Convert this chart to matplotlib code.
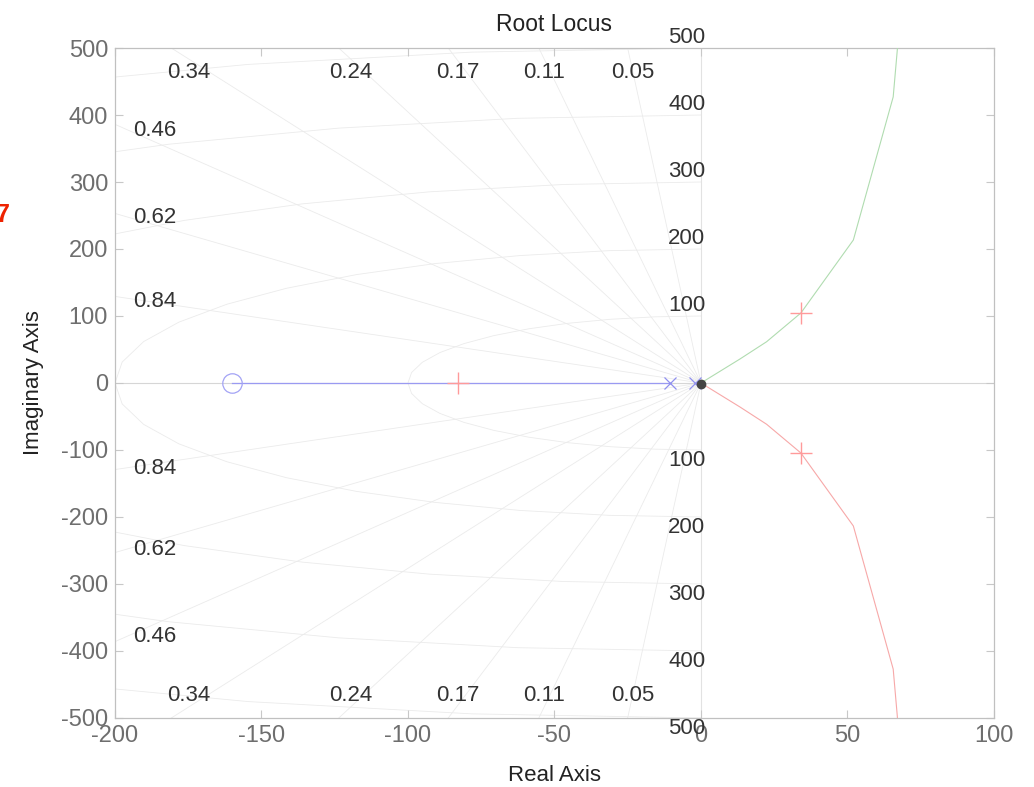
import numpy as np
import matplotlib
matplotlib.use("Agg")
import matplotlib.pyplot as plt

plt.rcParams['font.family'] = ['Liberation Sans', 'DejaVu Sans']
plt.rcParams['axes.unicode_minus'] = False

# root locus branches
real_branch_x = [-160.0, -10.6]
real_branch_y = [0.0, 0.0]

up_x = [0.0, 13.3, 22.4, 34.1, 52.0, 65.6, 67.0, 67.3]
up_y = [0.0, 35.8, 61.6, 104.5, 213.4, 427.0, 497.0, 520.0]
low_x = [0.0, 13.3, 22.4, 34.1, 52.0, 65.6, 67.0, 67.3]
low_y = [0.0, -35.8, -61.6, -104.5, -213.4, -427.0, -497.0, -520.0]

poles_x = [-10.6, -2.0]
poles_y = [0.0, 0.0]
zeros_x = [-160.0]
zeros_y = [0.0]
cl_x = [-83.0, 34.1, 34.1]
cl_y = [0.0, 104.5, -104.5]

# grid: damping ratios and natural frequencies
zetas = [0.05, 0.11, 0.17, 0.24, 0.34, 0.46, 0.62, 0.84]
wns = [100, 200, 300, 400, 500]

# where the damping labels sit
zeta_lbl_up = [(-174.7, 464), (-119.5, 464), (-82.9, 464), (-53.6, 464), (-23.2, 464),
               (-186.3, 377.6), (-186.3, 246.3), (-186.3, 120.9)]
zeta_txt_up = ['0.34', '0.24', '0.17', '0.11', '0.05', '0.46', '0.62', '0.84']
zeta_lbl_lo = [(-174.7, -465.7), (-119.5, -465.7), (-82.9, -465.7), (-53.6, -465.7),
               (-23.2, -465.7), (-186.3, -379), (-186.3, -247.8), (-186.3, -126.9)]
zeta_txt_lo = ['0.34', '0.24', '0.17', '0.11', '0.05', '0.46', '0.62', '0.84']

fig = plt.figure(figsize=(10.34, 7.87), dpi=100)
ax = fig.add_axes([0.1112, 0.0877, 0.8501, 0.8513])

gcol = '#ebebeb'
# damping lines
for z in zetas:
    th = np.arccos(z)
    r = 700
    ax.plot([0, -r * np.cos(th)], [0, r * np.sin(th)], color=gcol, lw=0.6, zorder=1)
    ax.plot([0, -r * np.cos(th)], [0, -r * np.sin(th)], color=gcol, lw=0.6, zorder=1)
# frequency circles (coarse polygons, left half plane)
ang = np.linspace(np.pi / 2, 3 * np.pi / 2, 21)
for w in wns:
    ax.plot(w * np.cos(ang), w * np.sin(ang), color=gcol, lw=0.6, zorder=1)

# axes lines
ax.axhline(0, color='#d6d6d6', lw=0.8, zorder=1)
ax.axvline(0, color='#e2e2e2', lw=0.8, zorder=1)

# locus
ax.plot(real_branch_x, real_branch_y, color='#9a9af2', lw=0.9, zorder=3)
ax.plot(up_x, up_y, color='#b0dcb0', lw=0.8, zorder=3)
ax.plot(low_x, low_y, color='#f7a8a8', lw=0.8, zorder=3)

ax.plot(poles_x, poles_y, 'x', color='#8f8fef', ms=8, mew=0.9, zorder=4)
ax.plot(zeros_x, zeros_y, 'o', mfc='none', mec='#a3a3f5', ms=14, mew=0.9, zorder=4)
ax.plot(cl_x, cl_y, '+', color='#ff9a9a', ms=16, mew=1.0, zorder=5)
ax.plot([0.0], [-2.0], 'o', color='#444444', ms=6, zorder=6)

# labels on grid
for (x, y), t in zip(zeta_lbl_up, zeta_txt_up):
    ax.text(x, y, t, ha='center', va='center', fontsize=16, color='#333333', zorder=7)
for (x, y), t in zip(zeta_lbl_lo, zeta_txt_lo):
    ax.text(x, y, t, ha='center', va='center', fontsize=16, color='#333333', zorder=7)
for w in wns:
    ax.text(1.5, w, str(w), ha='right', va='bottom', fontsize=16, color='#333333',
            zorder=7, clip_on=False)
    ax.text(1.5, -w, str(w), ha='right', va='top', fontsize=16, color='#333333',
            zorder=7, clip_on=False)

ax.set_xlim(-200, 100)
ax.set_ylim(-500, 500)
ax.set_xticks(np.arange(-200, 101, 50))
ax.set_yticks(np.arange(-500, 501, 100))
ax.tick_params(direction='in', length=6, width=0.8, color='#c8c8c8', labelcolor='#6e6e6e',
               labelsize=17, top=True, right=True, pad=5)
for s in ax.spines.values():
    s.set_color('#c0c0c0')
    s.set_linewidth(0.9)

ax.set_title('Root Locus', fontsize=16.5, color='#222222', pad=12)
ax.set_xlabel('Real Axis', fontsize=16, color='#222222', labelpad=13)
ax.set_ylabel('Imaginary Axis', fontsize=16, color='#222222', labelpad=12)

fig.text(-0.004, 0.727, '7', color='#ee2200', fontsize=18, fontweight='bold',
         ha='left', va='center')

fig.savefig('out.png', dpi=100)
